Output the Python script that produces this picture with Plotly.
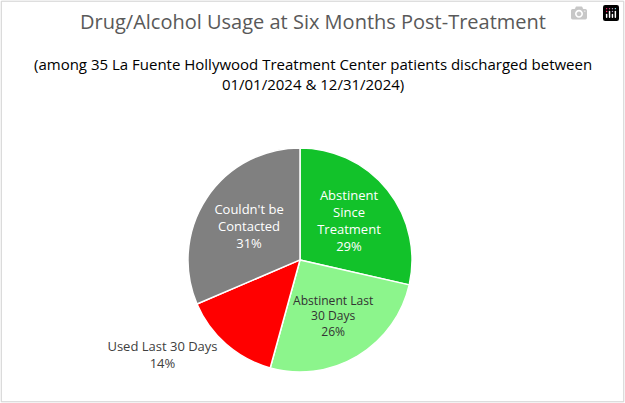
import plotly.graph_objects as go

labels = ["Abstinent<br>Since<br>Treatment", "Abstinent Last<br>30 Days", "Used Last 30 Days", "Couldn't be<br>Contacted"]
values = [10, 9, 5, 11]
colors = ["#12c22a", "#8cf58c", "#ff0000", "#808080"]
text_colors = ["white", "#333333", "#404040", "white"]
positions = ["inside", "inside", "outside", "inside"]

fig = go.Figure(go.Pie(
    labels=labels, values=values, sort=False, direction="clockwise", rotation=0,
    marker=dict(colors=colors, line=dict(color="white", width=1.5)),
    texttemplate="%{label}<br>%{percent:.0%}", textposition=positions,
    textfont=dict(family="Open Sans", size=13, color=text_colors),
    insidetextorientation="horizontal",
    domain=dict(x=[0.30, 0.66], y=[0.077, 0.633]),
    showlegend=False, hoverinfo="label+percent",
))
fig.update_layout(
    width=625, height=403, margin=dict(l=0, r=0, t=0, b=0),
    paper_bgcolor="white", font=dict(family="Open Sans"),
    annotations=[
        dict(text="Drug/Alcohol Usage at Six Months Post-Treatment", x=0.5, y=1 - 22/403,
             yanchor="middle", xref="paper", yref="paper", showarrow=False,
             font=dict(size=20, color="#595959")),
        dict(text="(among 35 La Fuente Hollywood Treatment Center patients discharged between<br>01/01/2024 & 12/31/2024)",
             x=0.5, y=1 - 74/403, yanchor="middle", xref="paper", yref="paper", showarrow=False,
             font=dict(size=15, color="black"), align="center"),
    ],
    shapes=[dict(type="rect", xref="paper", yref="paper", x0=0.002, y0=0.003, x1=0.998, y1=0.997,
                 line=dict(color="#d0d0d0", width=1))],
)
fig.write_html("out.html", post_script="document.body.style.margin='0';document.body.style.overflow='hidden';")
